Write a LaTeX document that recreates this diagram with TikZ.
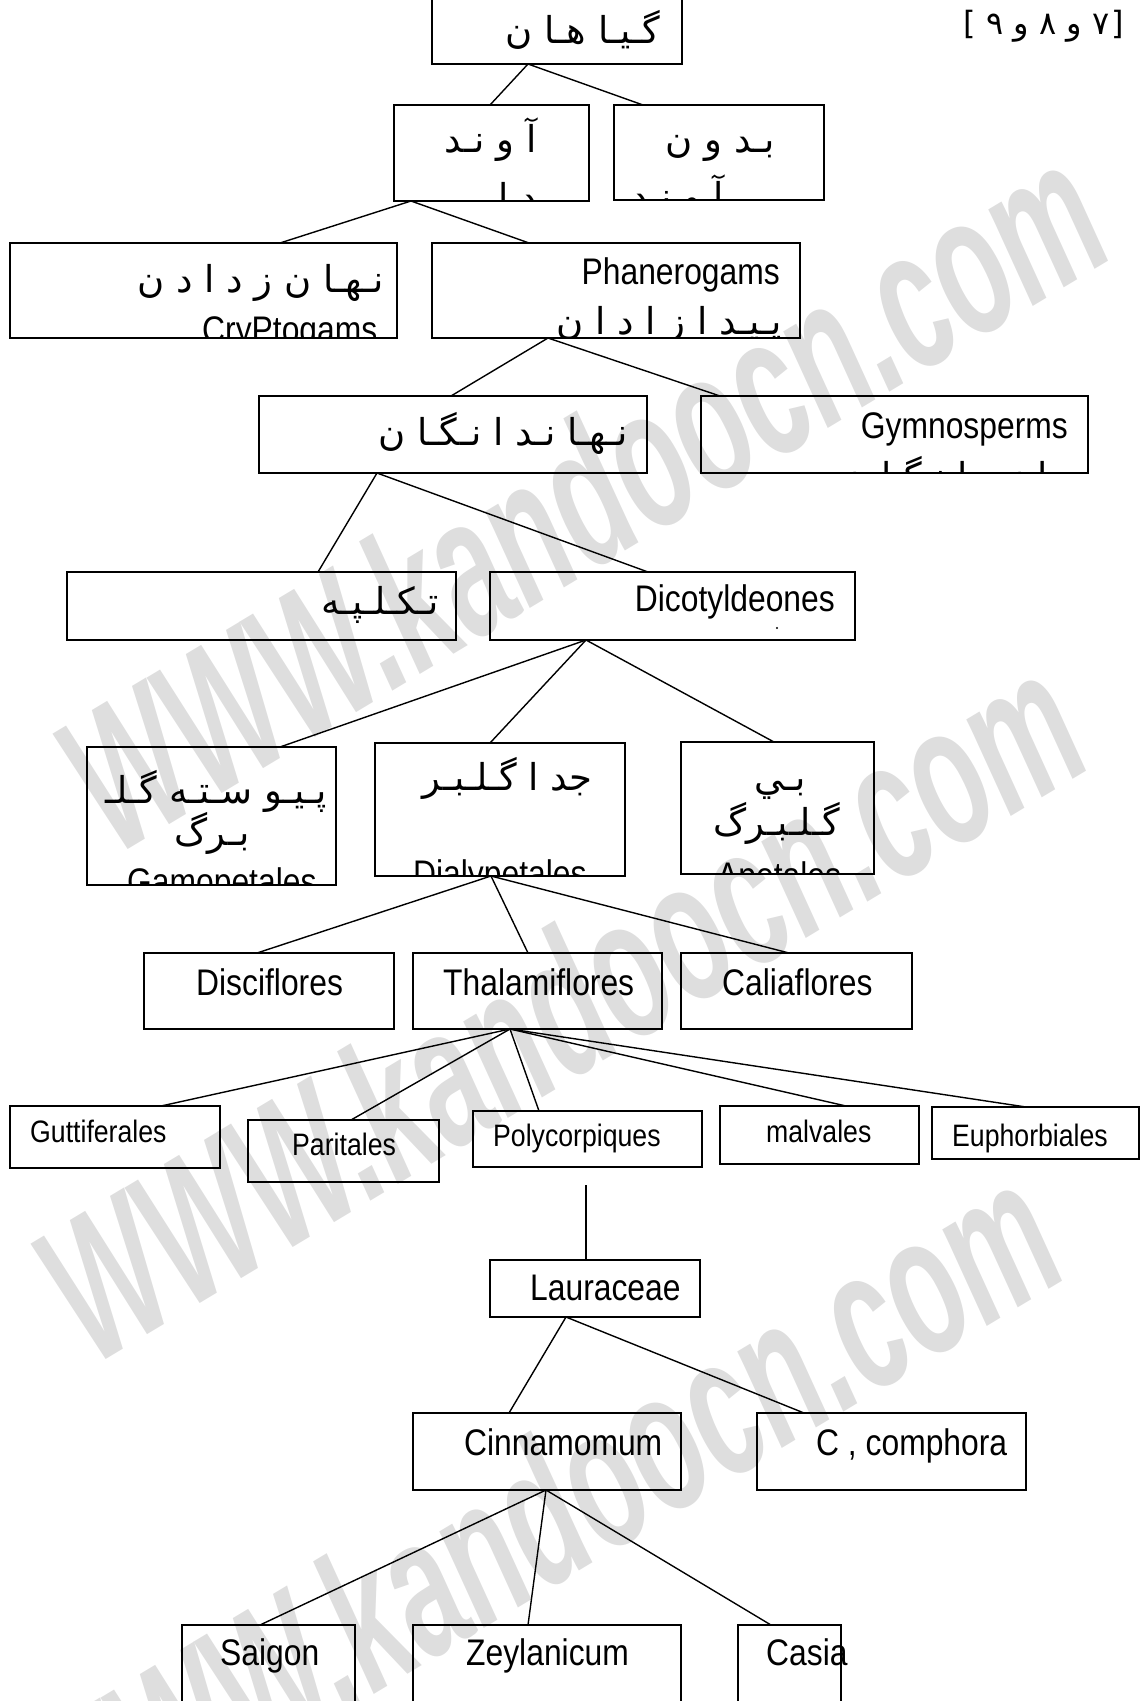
\documentclass[tikz,border=0pt]{standalone}
\usepackage{fontspec}
\setmainfont[FakeStretch=0.86]{Liberation Sans}
\newfontfamily\fa[Script=Arabic]{DejaVu Sans}
\newfontfamily\brk{DejaVu Sans}
\newfontfamily\wmf[FakeStretch=0.58]{Liberation Sans}
\TeXXeTstate=1
\tikzset{
 box/.style={draw, line width=1.4pt, inner sep=0pt, outer sep=0pt, anchor=north west},
 conn/.style={line width=1.4pt},
 big/.style={inner sep=0pt, font=\fontsize{37}{44}\selectfont},
 small/.style={inner sep=0pt, font=\fontsize{31}{37}\selectfont},
 fatxt/.style={inner sep=0pt, font=\fa\fontsize{37}{44}\selectfont},
 wmk/.style={inner sep=0pt, text=black!13, font=\wmf\bfseries\itshape\fontsize{200}{240}\selectfont, rotate=31, anchor=base west},
}
\newcommand\bx[5]{\node[box, minimum width=#4pt-#2pt, minimum height=#5pt-#3pt] (#1) at (#2,#3) {};}
\newcommand\cn[4]{\draw[conn] ([xshift=#2pt]#1.south west) -- ([xshift=#4pt]#3.north west);}
\newcommand\fw[1]{\beginR #1\endR}
\begin{document}
\begin{tikzpicture}[x=1pt,y=-1pt]
\useasboundingbox (0,0) rectangle (1141,1701);
% watermark
\node[wmk] (wm1) at (116,857) {WWW.kandoocn.com};
\node[wmk] (wm2) at (94,1367) {WWW.kandoocn.com};
\node[wmk] (wm3) at (70,1877) {WWW.kandoocn.com};
% boxes
\bx{t}{432}{-10}{682}{64}
\bx{a1}{394}{105}{589}{201}
\bx{a2}{614}{105}{824}{200}
\bx{c1}{10}{243}{397}{338}
\bx{c2}{432}{243}{800}{338}
\bx{d1}{259}{396}{647}{473}
\bx{d2}{701}{396}{1088}{473}
\bx{e1}{67}{572}{456}{640}
\bx{e2}{490}{572}{855}{640}
\bx{f1}{87}{747}{336}{885}
\bx{f2}{375}{743}{625}{876}
\bx{f3}{681}{742}{874}{874}
\bx{g1}{144}{953}{394}{1029}
\bx{g2}{413}{953}{662}{1029}
\bx{g3}{681}{953}{912}{1029}
\bx{h1}{10}{1106}{220}{1168}
\bx{h2}{248}{1120}{439}{1182}
\bx{h3}{473}{1111}{702}{1167}
\bx{h4}{720}{1106}{919}{1164}
\bx{h5}{932}{1107}{1139}{1159}
\bx{i}{490}{1260}{700}{1317}
\bx{j1}{413}{1413}{681}{1490}
\bx{j2}{757}{1413}{1026}{1490}
\bx{k1}{182}{1625}{355}{1730}
\bx{k2}{413}{1625}{681}{1730}
\bx{k3}{738}{1625}{841}{1730}
% texts
\node[inner sep=0pt, font=\fa\fontsize{32}{38}\selectfont, anchor=base east] (ref) at (1124,34) {\beginR {\brk]}\kern2pt ۷ و ۸ و ۹ {\brk[}\endR};
\node[fatxt, anchor=base east] (tt) at (660,43) {\fw{گـیـا هـا ن}};
\begin{scope}\clip (a1.south west) rectangle (a1.north east);
\node[fatxt, anchor=base east] (a1t) at (537,152) {\fw{آ و نـد}};
\node[fatxt, anchor=base east] (a1u) at (537,210) {\fw{د ا ر}};
\end{scope}
\begin{scope}\clip (a2.south west) rectangle (a2.north east);
\node[fatxt, anchor=base east] (a2t) at (775,152) {\fw{بـد و ن}};
\node[fatxt, anchor=base east] (a2u) at (724,209) {\fw{آ و نـد}};
\end{scope}
\begin{scope}\clip (c1.south west) rectangle (c1.north east);
\node[fatxt, anchor=base east] (c1t) at (384,292) {\fw{نـهـا ن ز د ا د ن}};
\node[big, anchor=base west] (c1u) at (202,342) {CryPtogams};
\end{scope}
\begin{scope}\clip (c2.south west) rectangle (c2.north east);
\node[big, anchor=base east] (c2t) at (780,284) {Phanerogams};
\node[fatxt, anchor=base east] (c2u) at (782,334) {\fw{پـیـد ا ز ا د ا ن}};
\end{scope}
\node[fatxt, anchor=base east] (d1t) at (628,445) {\fw{نـهـا نـد ا نـگـا ن}};
\begin{scope}\clip (d2.south west) rectangle (d2.north east);
\node[big, anchor=base east] (d2t) at (1068,438) {Gymnosperms};
\node[fatxt, anchor=base east] (d2u) at (1070,489) {\fw{بـا ز د ا نـگـا ن}};
\end{scope}
\node[fatxt, anchor=base east] (e1t) at (439,614) {\fw{تـكـلـپـه}};
\node[big, anchor=base east] (e2t) at (835,611) {Dicotyldeones};
\fill (777,628) circle (1.2);
\begin{scope}\clip (f1.south west) rectangle (f1.north east);
\node[fatxt, anchor=base east] (f1t) at (327,803) {\fw{پـیـو سـتـه گـلـ}};
\node[fatxt, anchor=base] (f1u) at (212,845) {\fw{بـرگ}};
\node[big, anchor=base west] (f1v) at (127,894) {Gamopetales};
\end{scope}
\begin{scope}\clip (f2.south west) rectangle (f2.north east);
\node[fatxt, anchor=base east] (f2t) at (593,790) {\fw{جد ا گـلـبـر}};
\node[big, anchor=base west] (f2u) at (413,886) {Dialypetales};
\end{scope}
\begin{scope}\clip (f3.south west) rectangle (f3.north east);
\node[fatxt, anchor=base] (f3t) at (780,790) {\fw{بـي}};
\node[fatxt, anchor=base] (f3u) at (777,835) {\fw{گـلـبـرگ}};
\node[big, anchor=base west] (f3v) at (717,888) {Apetales};
\end{scope}
\node[big, anchor=base west] (g1t) at (196,995) {Disciflores};
\node[big, anchor=base west] (g2t) at (443,995) {Thalamiflores};
\node[big, anchor=base west] (g3t) at (722,995) {Caliaflores};
\node[small, anchor=base west] (h1t) at (30,1142) {Guttiferales};
\node[small, anchor=base west] (h2t) at (292,1155) {Paritales};
\node[small, anchor=base west] (h3t) at (493,1146) {Polycorpiques};
\node[small, anchor=base west] (h4t) at (766,1142) {malvales};
\node[small, anchor=base west] (h5t) at (952,1146) {Euphorbiales};
\node[big, anchor=base west] (it) at (530,1300) {Lauraceae};
\node[big, anchor=base west] (j1t) at (464,1455) {Cinnamomum};
\node[big, anchor=base west] (j2t) at (816,1455) {C , comphora};
\node[big, anchor=base west] (k1t) at (220,1665) {Saigon};
\node[big, anchor=base west] (k2t) at (466,1665) {Zeylanicum};
\node[big, anchor=base west] (k3t) at (766,1665) {Casia};
% connectors
\cn{t}{96}{a1}{96}
\cn{t}{96}{a2}{29}
\cn{a1}{17}{c1}{270}
\cn{a1}{17}{c2}{97}
\cn{c2}{116}{d1}{192}
\cn{c2}{116}{d2}{19}
\cn{d1}{118}{e1}{251}
\cn{d1}{118}{e2}{158}
\cn{e2}{96}{f1}{193}
\cn{e2}{96}{f2}{115}
\cn{e2}{96}{f3}{93}
\cn{f2}{116}{g1}{113}
\cn{f2}{116}{g2}{115}
\cn{f2}{116}{g3}{108}
\cn{g2}{97}{h1}{151}
\cn{g2}{97}{h2}{103}
\cn{g2}{97}{h3}{66}
\cn{g2}{97}{h4}{126}
\cn{g2}{97}{h5}{94}
\draw[conn] ([xshift=113pt,yshift=-18pt]h3.south west) -- ([xshift=96pt]i.north west);
\cn{i}{76}{j1}{96}
\cn{i}{76}{j2}{47}
\cn{j1}{133}{k1}{78}
\cn{j1}{133}{k2}{115}
\cn{j1}{133}{k3}{33}
\end{tikzpicture}
\end{document}
